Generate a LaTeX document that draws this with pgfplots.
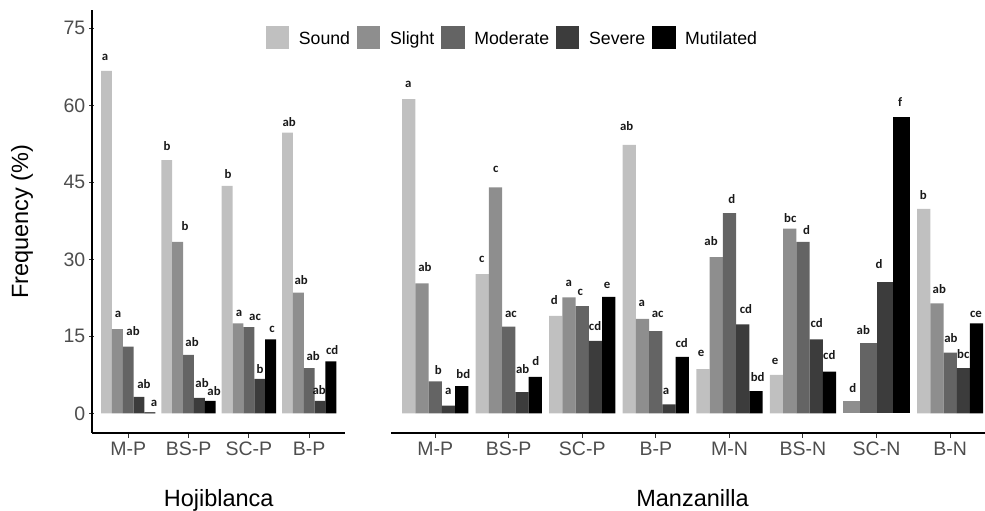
\documentclass[border=0pt]{standalone}
\usepackage{pgfplots}
\pgfplotsset{compat=1.18}
\usepackage{pgfplotstable}
\usepackage{fontspec}
\setmainfont{Liberation Sans}
\newfontfamily\labfont{Carlito}

\definecolor{cSound}{HTML}{C0C0C0}
\definecolor{cSlight}{HTML}{8E8E8E}
\definecolor{cModerate}{HTML}{646464}
\definecolor{cSevere}{HTML}{3C3C3C}
\definecolor{cMut}{HTML}{000000}
\definecolor{tickgray}{HTML}{4D4D4D}

\tikzset{lab/.style={font=\labfont\bfseries\fontsize{12.8}{13}\selectfont, text=black!90, inner sep=0pt, anchor=center}}

\pgfplotstableread{
x sound slight moderate severe mutilated
1 66.7 16.4 13.0 3.2 0.2
2 49.3 33.4 11.4 3.0 2.4
3 44.3 17.5 16.8 6.7 14.4
4 54.7 23.5 8.8 2.4 10.1
}\hoji

\pgfplotstableread{
x sound slight moderate severe mutilated
1 61.2 25.3 6.2 1.5 5.3
2 27.1 44.0 16.9 4.1 7.1
3 19.0 22.6 20.9 14.1 22.7
4 52.3 18.4 16.0 1.75 11.0
5 8.6 30.4 39.0 17.3 4.3
6 7.5 36.0 33.4 14.4 8.1
8 39.8 21.4 11.8 8.8 17.5
}\manz

\pgfplotstableread{
x slight moderate severe mutilated
7 2.3 13.7 25.6 57.7
}\manzscn

\pgfplotsset{
  mybase/.style={
    scale only axis, height=423pt, ymin=-3.84, ymax=78.57,
    axis x line=bottom,
    axis line style={-, line width=1.1pt, black},
    every outer y axis line/.append style={-},
    every inner y axis line/.append style={-},
    every outer x axis line/.append style={-},
    tick align=outside, major tick length=5pt,
    tick style={line width=1pt, color=black!80},
    ticklabel style={color=tickgray, font=\fontsize{19.5}{20}\selectfont},
    xticklabel style={inner sep=3.5pt},
    yticklabel style={inner xsep=4pt},
    /pgf/number format/assume math mode=true,
    clip=false,
    label style={font=\fontsize{23.5}{24}\selectfont},
    ybar, bar width=0.18,
  },
}

\begin{document}
\begin{tikzpicture}
\path[use as bounding box] (0pt,0pt) rectangle (985pt,511pt);

\begin{axis}[mybase,
  at={(92pt,78pt)}, anchor=south west,
  width=253.4pt, xmin=0.4, xmax=4.6,
  axis y line=left,
  y axis line style={-},
  ytick={0,15,30,45,60,75},
  xtick={1,2,3,4}, xticklabels={M-P,BS-P,SC-P,B-P},
  xlabel={Hojiblanca}, ylabel={Frequency (\%)},
  xlabel style={at={(axis description cs:0.5,-0.1738)}, anchor=base},
  ylabel style={at={(axis description cs:-0.2762,0.5)}, anchor=center},
  legend columns=5,
  legend style={draw=none, fill=none, at={(axis description cs:0.6736,0.9345)}, anchor=west,
    column sep=0pt, nodes={inner sep=0pt, text height=12.8pt, text depth=0.2pt,
    font=\fontsize{17.7}{18}\selectfont, text=black}},
  legend image code/.code={\fill[#1, draw=none] (0pt,-11.65pt) rectangle (23.3pt,11.65pt); \path (33pt,0pt);},
]
\addplot[fill=cSound, draw=none, bar shift=-0.36] table[x=x,y=sound]{\hoji};
\addlegendentry{Sound\kern7pt\null}
\addplot[fill=cSlight, draw=none, bar shift=-0.18] table[x=x,y=slight]{\hoji};
\addlegendentry{Slight\kern7pt\null}
\addplot[fill=cModerate, draw=none, bar shift=0] table[x=x,y=moderate]{\hoji};
\addlegendentry{Moderate\kern7pt\null}
\addplot[fill=cSevere, draw=none, bar shift=0.18] table[x=x,y=severe]{\hoji};
\addlegendentry{Severe\kern7pt\null}
\addplot[fill=cMut, draw=none, bar shift=0.36] table[x=x,y=mutilated]{\hoji};
\addlegendentry{Mutilated}

\node[lab] at (axis cs:0.616,69.4) {a};
\node[lab] at (axis cs:0.831,19.35) {a};
\node[lab] at (axis cs:1.080,16.0) {ab};
\node[lab] at (axis cs:1.262,5.71) {ab};
\node[lab] at (axis cs:1.428,1.99) {a};
\node[lab] at (axis cs:1.644,52.1) {b};
\node[lab] at (axis cs:1.942,36.5) {b};
\node[lab] at (axis cs:2.058,13.9) {ab};
\node[lab] at (axis cs:2.224,5.9) {ab};
\node[lab] at (axis cs:2.423,4.35) {ab};
\node[lab] at (axis cs:2.655,46.6) {b};
\node[lab] at (axis cs:2.838,19.5) {a};
\node[lab] at (axis cs:3.103,18.6) {ac};
\node[lab] at (axis cs:3.186,8.63) {b};
\node[lab] at (axis cs:3.385,16.4) {c};
\node[lab] at (axis cs:3.667,56.8) {ab};
\node[lab] at (axis cs:3.866,26.0) {ab};
\node[lab] at (axis cs:4.065,11.2) {ab};
\node[lab] at (axis cs:4.165,4.54) {ab};
\node[lab] at (axis cs:4.380,12.3) {cd};
\end{axis}

\begin{axis}[mybase,
  at={(391pt,78pt)}, anchor=south west,
  width=594pt, xmin=0.4, xmax=8.474,
  axis y line=none,
  xtick={1,2,3,4,5,6,7,8}, xticklabels={M-P,BS-P,SC-P,B-P,M-N,BS-N,SC-N,B-N},
  xlabel={Manzanilla},
  xlabel style={at={(axis description cs:0.5076,-0.1738)}, anchor=base},
]
\addplot[fill=cSound, draw=none, bar shift=-0.36] table[x=x,y=sound]{\manz};
\addplot[fill=cSlight, draw=none, bar shift=-0.18] table[x=x,y=slight]{\manz};
\addplot[fill=cModerate, draw=none, bar shift=0] table[x=x,y=moderate]{\manz};
\addplot[fill=cSevere, draw=none, bar shift=0.18] table[x=x,y=severe]{\manz};
\addplot[fill=cMut, draw=none, bar shift=0.36] table[x=x,y=mutilated]{\manz};
% SC-N has no Sound bar: four wider bars
\addplot[fill=cSlight, draw=none, bar width=0.225, bar shift=-0.3375] table[x=x,y=slight]{\manzscn};
\addplot[fill=cModerate, draw=none, bar width=0.225, bar shift=-0.1125] table[x=x,y=moderate]{\manzscn};
\addplot[fill=cSevere, draw=none, bar width=0.225, bar shift=0.1125] table[x=x,y=severe]{\manzscn};
\addplot[fill=cMut, draw=none, bar width=0.225, bar shift=0.3375] table[x=x,y=mutilated]{\manzscn};

\node[lab] at (axis cs:0.635,64.1) {a};
\node[lab] at (axis cs:0.862,28.5) {ab};
\node[lab] at (axis cs:1.043,8.44) {b};
\node[lab] at (axis cs:1.179,4.21) {a};
\node[lab] at (axis cs:1.383,7.66) {bd};
\node[lab] at (axis cs:1.633,29.9) {c};
\node[lab] at (axis cs:1.823,47.5) {c};
\node[lab] at (axis cs:2.031,19.3) {ac};
\node[lab] at (axis cs:2.190,8.63) {ab};
\node[lab] at (axis cs:2.367,10.2) {d};
\node[lab] at (axis cs:2.620,22.1) {d};
\node[lab] at (axis cs:2.815,25.3) {a};
\node[lab] at (axis cs:2.973,23.6) {c};
\node[lab] at (axis cs:3.173,16.9) {cd};
\node[lab] at (axis cs:3.336,24.9) {e};
\node[lab] at (axis cs:3.604,56.0) {ab};
\node[lab] at (axis cs:3.808,21.4) {a};
\node[lab] at (axis cs:4.025,19.3) {ac};
\node[lab] at (axis cs:4.138,4.21) {a};
\node[lab] at (axis cs:4.351,13.75) {cd};
\node[lab] at (axis cs:4.614,11.7) {e};
\node[lab] at (axis cs:4.750,33.6) {ab};
\node[lab] at (axis cs:5.031,41.75) {d};
\node[lab] at (axis cs:5.225,20.3) {cd};
\node[lab] at (axis cs:5.384,7.01) {bd};
\node[lab] at (axis cs:5.620,10.05) {e};
\node[lab] at (axis cs:5.827,38.0) {bc};
\node[lab] at (axis cs:6.050,35.7) {d};
\node[lab] at (axis cs:6.186,17.65) {cd};
\node[lab] at (axis cs:6.358,11.3) {cd};
\node[lab] at (axis cs:6.676,4.87) {d};
\node[lab] at (axis cs:6.820,16.2) {ab};
\node[lab] at (axis cs:7.033,29.1) {d};
\node[lab] at (axis cs:7.319,60.6) {f};
\node[lab] at (axis cs:7.635,42.6) {b};
\node[lab] at (axis cs:7.853,24.2) {ab};
\node[lab] at (axis cs:8.012,14.6) {ab};
\node[lab] at (axis cs:8.179,11.5) {bc};
\node[lab] at (axis cs:8.352,19.3) {ce};
\end{axis}
\end{tikzpicture}
\end{document}
